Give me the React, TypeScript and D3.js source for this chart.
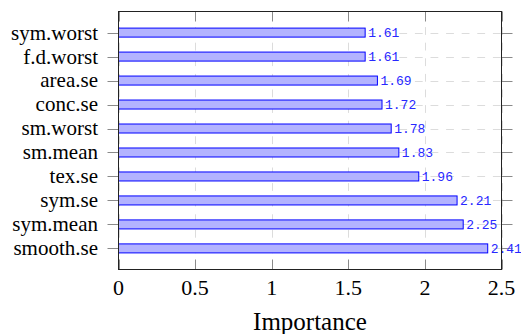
import React from 'react';
import * as d3 from 'd3';

// feature importance, top to bottom as drawn
const features = [
  'sym.worst',
  'f.d.worst',
  'area.se',
  'conc.se',
  'sm.worst',
  'sm.mean',
  'tex.se',
  'sym.se',
  'sym.mean',
  'smooth.se',
];
const importance = [1.61, 1.61, 1.69, 1.72, 1.78, 1.83, 1.96, 2.21, 2.25, 2.41];
const xTicks = [0, 0.5, 1, 1.5, 2, 2.5];
const xTickLabels = ['0', '0.5', '1', '1.5', '2', '2.5'];

const W = 521;
const H = 334;

const left = 118.5;
const right = 501.5;
const top = 11.5;
const bottom = 269.5;

const serif = "'Liberation Serif'";
const mono = "'Liberation Mono'";
const gridColor = '#dcdcdc';
const tickColor = '#8a8a8a';
const barH = 9;

const App = () => {
  const x = d3.scaleLinear().domain([0, 2.5]).range([left, right]);
  const y = d3.scalePoint<string>().domain(features).range([top, bottom]).padding(0.88);
  const px = (v: number) => Math.round(x(v)) + 0.5;
  const py = (f: string) => Math.round(y(f)!) + 0.5;

  return (
    <svg width={W} height={H} style={{ position: 'absolute', left: 0, top: 0, background: '#fff' }}>
      {/* grid */}
      <g stroke={gridColor} strokeDasharray="7.8,7.8">
        {xTicks.map((t) => (
          <line key={'gx' + t} x1={px(t)} x2={px(t)} y1={top} y2={bottom} />
        ))}
        {features.map((f) => (
          <line key={'gy' + f} x1={left} x2={right} y1={py(f)} y2={py(f)} />
        ))}
      </g>

      {/* x ticks inward, y ticks outward */}
      <g stroke={tickColor}>
        {xTicks.map((t) => (
          <g key={'tx' + t}>
            <line x1={px(t)} x2={px(t)} y1={bottom} y2={bottom - 10} />
            <line x1={px(t)} x2={px(t)} y1={top} y2={top + 10} />
          </g>
        ))}
        {features.map((f) => (
          <g key={'ty' + f}>
            <line x1={left - 11} x2={left} y1={py(f)} y2={py(f)} />
            <line x1={right} x2={right + 11} y1={py(f)} y2={py(f)} />
          </g>
        ))}
      </g>

      {/* bars */}
      {features.map((f, i) => (
        <rect
          key={'b' + f}
          x={left}
          y={y(f)! - barH / 2}
          width={x(importance[i]) - left}
          height={barH}
          fill="#b3b3ff"
          stroke="#0000ff"
          strokeWidth={1}
        />
      ))}

      {/* value labels */}
      {features.map((f, i) => (
        <text
          key={'v' + f}
          x={x(importance[i]) + 3}
          y={y(f)!}
          dy="0.35em"
          fill="#2828ff"
          fontFamily={mono}
          fontSize={13}
        >
          {importance[i].toFixed(2)}
        </text>
      ))}

      {/* axis frame */}
      <rect x={left} y={top} width={right - left} height={bottom - top} fill="none" stroke="#222" />

      {/* category labels */}
      {features.map((f) => (
        <text key={'l' + f} x={98} y={y(f)!} dy="0.33em" textAnchor="end" fontFamily={serif} fontSize={21}>
          {f}
        </text>
      ))}

      {/* x tick labels */}
      {xTicks.map((t, i) => (
        <text key={'xl' + t} x={x(t)} y={295} textAnchor="middle" fontFamily={serif} fontSize={22}>
          {xTickLabels[i]}
        </text>
      ))}

      <text x={(left + right) / 2} y={330} textAnchor="middle" fontFamily={serif} fontSize={25}>
        Importance
      </text>
    </svg>
  );
};

export default App;
